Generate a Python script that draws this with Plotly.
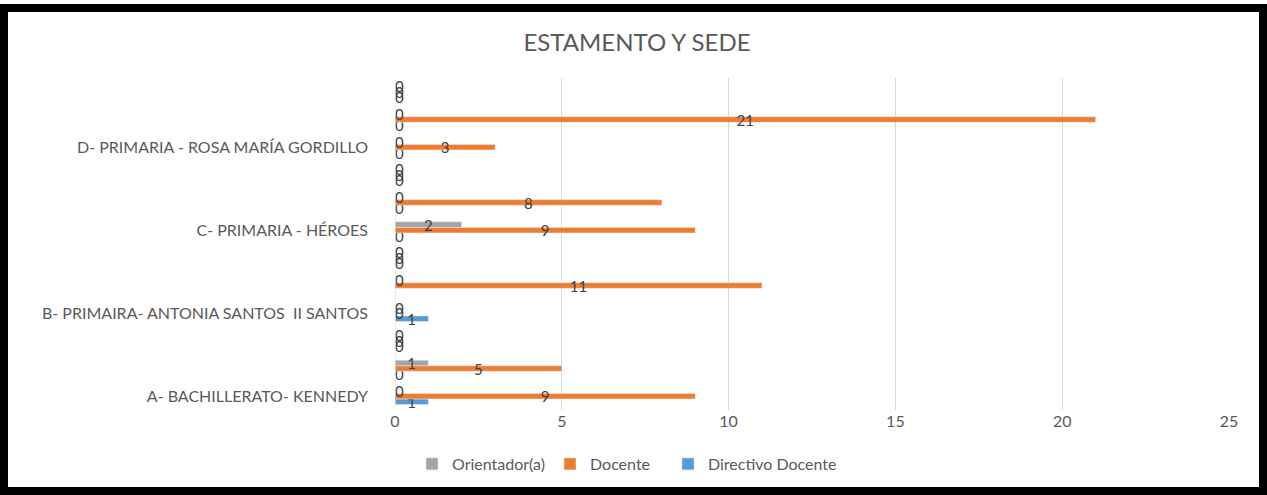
import plotly.graph_objects as go

# Filas del gráfico (de abajo hacia arriba); solo algunas llevan etiqueta
sedes = [
    "A- BACHILLERATO- KENNEDY", "", "",
    "B- PRIMAIRA- ANTONIA SANTOS  II SANTOS", "", "",
    "C- PRIMARIA - HÉROES", "", "",
    "D- PRIMARIA - ROSA MARÍA GORDILLO", "", "",
]
orientador = [0, 1, 0, 0, 0, 0, 2, 0, 0, 0, 0, 0]
docente = [9, 5, 0, 0, 11, 0, 9, 8, 0, 3, 21, 0]
directivo = [1, 0, 0, 1, None, 0, 0, 0, 0, 0, 0, 0]
x_ticks = [0, 5, 10, 15, 20, 25]

filas = list(range(len(sedes)))
tick_pos = [i for i, s in enumerate(sedes) if s]
tick_txt = [s for s in sedes if s]

W, H = 1267, 495
ML, MR, MT, MB = 395, 38, 78, 85
PW, PH = W - ML - MR, H - MT - MB


def px(x):
    return (x - ML) / PW


def py(y):
    return (H - MB - y) / PH


def serie(nombre, valores, color, leyenda):
    txt = ["" if v is None else str(v) for v in valores]
    pos = ["outside" if v == 0 else "inside" for v in valores]
    return go.Bar(
        y=filas, x=valores, name=nombre, orientation="h",
        marker_color=color, text=txt, textposition=pos,
        insidetextanchor="middle", textangle=0,
        textfont=dict(color="#404040", size=15),
        cliponaxis=False, legend=leyenda, showlegend=True,
    )


fig = go.Figure()
fig.add_trace(serie("Directivo Docente", directivo, "#5B9BD5", "legend3"))
fig.add_trace(serie("Docente", docente, "#ED7D31", "legend2"))
fig.add_trace(serie("Orientador(a)", orientador, "#A5A5A5", "legend"))

leg = dict(orientation="h", yanchor="middle", xanchor="left", y=py(464),
           font=dict(size=16, color="#595959"), itemwidth=30,
           bgcolor="rgba(0,0,0,0)")

fig.update_layout(
    width=W, height=H,
    margin=dict(l=ML, r=MR, t=MT, b=MB),
    title=dict(text="ESTAMENTO Y SEDE", x=637 / W, y=1 - 43 / H,
               xanchor="center", yanchor="middle",
               font=dict(size=24, color="#595959", family="Lato")),
    font=dict(family="Lato", color="#595959", size=15),
    barmode="group", bargap=0.4, bargroupgap=0,
    plot_bgcolor="white", paper_bgcolor="white",
    uniformtext=dict(minsize=15, mode="show"),
    showlegend=True,
    xaxis=dict(range=[0, 25], tickvals=x_ticks, showgrid=True,
               gridcolor="#D9D9D9", gridwidth=1, zeroline=False,
               showline=False, ticks="", tickfont=dict(size=16, color="#595959")),
    yaxis=dict(range=[-0.5, 11.5], tickvals=tick_pos, ticktext=tick_txt,
               showgrid=False, zeroline=False, showline=False, ticks="",
               ticklabelstandoff=26, tickfont=dict(size=16, color="#595959")),
    legend=dict(leg, x=px(412)),
    legend2=dict(leg, x=px(550)),
    legend3=dict(leg, x=px(668)),
    shapes=[
        # eje vertical
        dict(type="line", xref="x", yref="paper", x0=0, x1=0, y0=0, y1=1,
             line=dict(color="#D9D9D9", width=1)),
        # marco negro del gráfico
        dict(type="rect", xref="paper", yref="paper",
             x0=px(4), x1=px(1263), y0=py(491), y1=py(8),
             line=dict(color="black", width=8)),
    ],
)

fig.write_html("out.html", config={"displayModeBar": False},
               post_script="document.body.style.margin='0';")
